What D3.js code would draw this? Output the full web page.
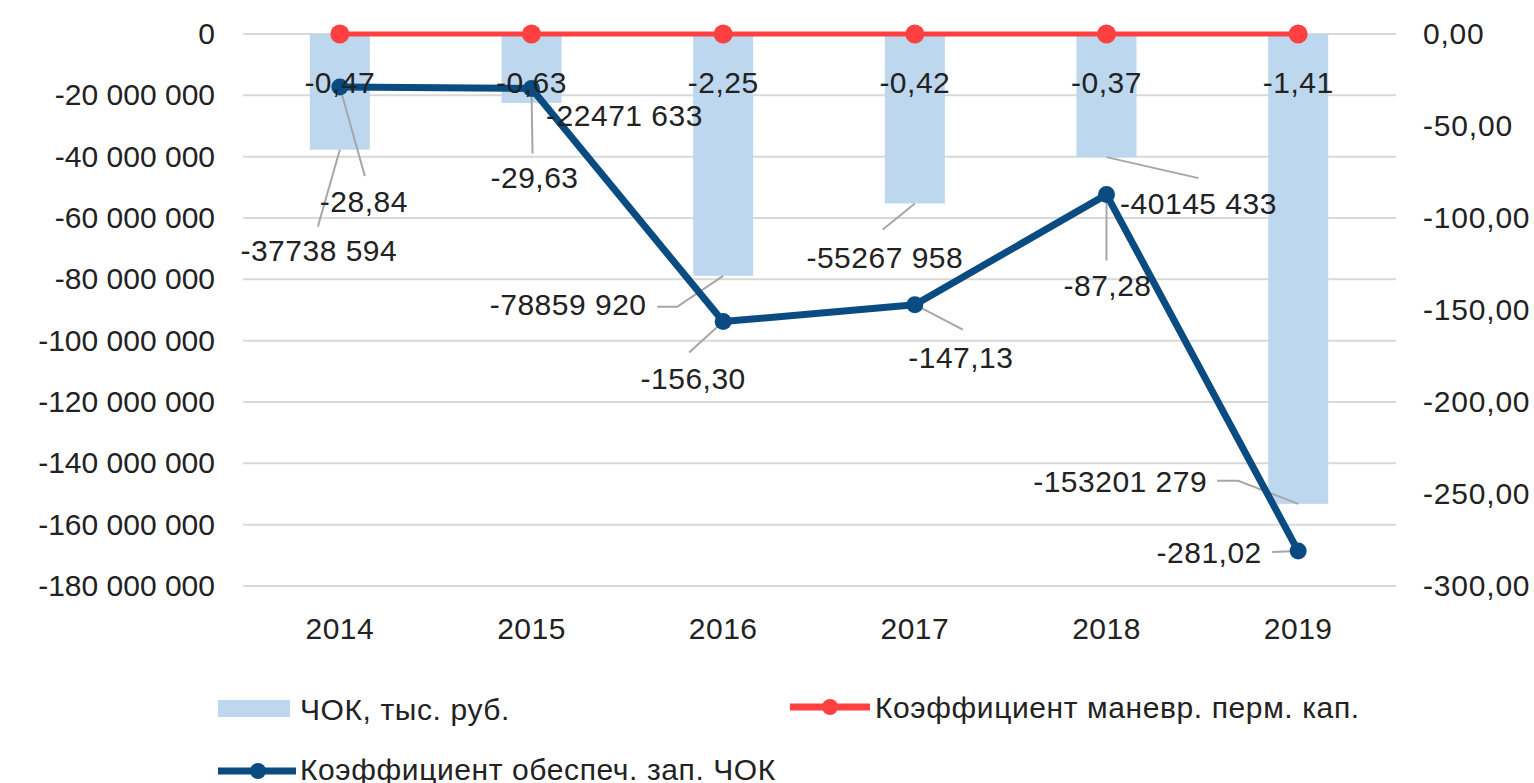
<!DOCTYPE html>
<html>
<head>
<meta charset="utf-8">
<script src="https://cdn.jsdelivr.net/npm/d3@7"></script>
<style>
  body { margin: 0; background: #fff; }
  text { font-family: "Liberation Sans", Arial, sans-serif; fill: #222; }
</style>
</head>
<body>
<div id="chart"></div>
<script>
// data
var years = ["2014", "2015", "2016", "2017", "2018", "2019"];
var chok = [-37738594, -22471633, -78859920, -55267958, -40145433, -153201279];
var kManevr = [-0.47, -0.63, -2.25, -0.42, -0.37, -1.41];
var kObesp = [-28.84, -29.63, -156.30, -147.13, -87.28, -281.02];
var leftTicks = [0, -20e6, -40e6, -60e6, -80e6, -100e6, -120e6, -140e6, -160e6, -180e6];
var rightTicks = [0, -50, -100, -150, -200, -250, -300];
var seriesNames = ["ЧОК, тыс. руб.", "Коэффициент маневр. перм. кап.", "Коэффициент обеспеч. зап. ЧОК"];

// label placement (offsets from the mark, px): label dx/dy and leader points
var barLabelPos = [
  {dx: -21, dy: 101, lead: [[-22, 77]]},
  {dx: 93, dy: 13, lead: []},
  {dx: -155, dy: 29, lead: [[-46, 31], [-66, 31]]},
  {dx: -30, dy: 54, lead: [[-32, 26]]},
  {dx: 92, dy: 46, lead: [[92, 21]]},
  {dx: -178, dy: -22, lead: [[-60, -23], [-81, -23]]}
];
var lineLabelPos = [
  {dx: 24, dy: 114, lead: [[25, 89]]},
  {dx: 3, dy: 89, lead: [[1, 65]]},
  {dx: -30, dy: 57, lead: [[-34, 31]]},
  {dx: 46, dy: 53, lead: [[48, 25]]},
  {dx: 1, dy: 91, lead: [[0, 66]]},
  {dx: -89, dy: 1, lead: [[-26, 1]]}
];

var W = 1534, H = 783;
var plotL = 243, plotR = 1396, plotT = 34, plotB = 586;
var colBar = "#bdd7ee", colRed = "#ff4040", colBlue = "#0a4c82", colGrid = "#d9d9d9", colLead = "#a6a6a6";

var loc = d3.formatLocale({decimal: ",", thousands: " ", grouping: [3], currency: ["", ""], minus: "-"});
var fmtLeft = loc.format(",");
var fmtRight = loc.format(",.2f");
var fmt2 = loc.format(".2f");
function fmtBar(v) {
  var s = Math.abs(Math.round(v)).toString();
  return (v < 0 ? "-" : "") + s.slice(0, -3) + " " + s.slice(-3);
}

var svg = d3.select("#chart").append("svg")
  .attr("width", W).attr("height", H)
  .attr("viewBox", `0 0 ${W} ${H}`);

var x = d3.scaleBand().domain(years).range([244, 1394]);
var yL = d3.scaleLinear().domain([-180e6, 0]).range([plotB, plotT]);
var yR = d3.scaleLinear().domain([-300, 0]).range([plotB, plotT]);
var cx = function(d) { return x(d) + x.bandwidth() / 2; };
var barW = 60;

// gridlines
svg.append("g").selectAll("line").data(leftTicks).enter().append("line")
  .attr("x1", plotL).attr("x2", plotR)
  .attr("y1", function(d) { return yL(d); }).attr("y2", function(d) { return yL(d); })
  .attr("stroke", colGrid).attr("stroke-width", 2);

// axes
var gL = svg.append("g").attr("transform", "translate(" + plotL + ",0)")
  .call(d3.axisLeft(yL).tickValues(leftTicks).tickSize(0).tickPadding(28).tickFormat(fmtLeft));
var gR = svg.append("g").attr("transform", "translate(" + plotR + ",0)")
  .call(d3.axisRight(yR).tickValues(rightTicks).tickSize(0).tickPadding(27).tickFormat(fmtRight));
var gX = svg.append("g").attr("transform", "translate(0," + plotB + ")")
  .call(d3.axisBottom(x).tickSize(0).tickPadding(32));
[gL, gR, gX].forEach(function(g) {
  g.select(".domain").remove();
  g.selectAll("text").attr("font-size", 30).attr("fill", "#222")
    .style("font-family", "'Liberation Sans', Arial, sans-serif");
});
gR.selectAll("text").attr("letter-spacing", 0.8);
gX.selectAll("text").attr("letter-spacing", 0.5);

// bars
svg.append("g").selectAll("rect").data(years).enter().append("rect")
  .attr("x", function(d) { return cx(d) - barW / 2; })
  .attr("y", yL(0))
  .attr("width", barW)
  .attr("height", function(d, i) { return yL(chok[i]) - yL(0); })
  .attr("fill", colBar);

// leader lines
function leaders(g, ax, ay, pos) {
  var pts = [[ax, ay]].concat(pos.lead.map(function(p) { return [ax + p[0], ay + p[1]]; }));
  if (pts.length > 1) {
    g.append("path").attr("d", d3.line()(pts))
      .attr("fill", "none").attr("stroke", colLead).attr("stroke-width", 2);
  }
}
var gLead = svg.append("g");
years.forEach(function(d, i) {
  leaders(gLead, cx(d), yL(chok[i]), barLabelPos[i]);
  leaders(gLead, cx(d), yR(kObesp[i]), lineLabelPos[i]);
});

// red line (primary axis)
var lineRed = d3.line().x(function(d) { return cx(d); }).y(function(d, i) { return yL(kManevr[i]); });
svg.append("path").datum(years).attr("d", lineRed)
  .attr("fill", "none").attr("stroke", colRed).attr("stroke-width", 5);
svg.append("g").selectAll("circle").data(years).enter().append("circle")
  .attr("cx", cx).attr("cy", function(d, i) { return yL(kManevr[i]); })
  .attr("r", 9.5).attr("fill", colRed);

// blue line (secondary axis)
var lineBlue = d3.line().x(function(d) { return cx(d); }).y(function(d, i) { return yR(kObesp[i]); });
svg.append("path").datum(years).attr("d", lineBlue)
  .attr("fill", "none").attr("stroke", colBlue).attr("stroke-width", 7).attr("stroke-linejoin", "round");
svg.append("g").selectAll("circle").data(years).enter().append("circle")
  .attr("cx", cx).attr("cy", function(d, i) { return yR(kObesp[i]); })
  .attr("r", 8.5).attr("fill", colBlue);

// data labels
var gLab = svg.append("g").attr("font-size", 30).attr("letter-spacing", 0.5).attr("text-anchor", "middle");
years.forEach(function(d, i) {
  gLab.append("text").attr("x", cx(d)).attr("y", yL(kManevr[i]) + 48).attr("dy", "0.35em")
    .text(fmt2(kManevr[i]));
  gLab.append("text").attr("x", cx(d) + barLabelPos[i].dx).attr("y", yL(chok[i]) + barLabelPos[i].dy)
    .attr("dy", "0.35em").text(fmtBar(chok[i]));
  gLab.append("text").attr("x", cx(d) + lineLabelPos[i].dx).attr("y", yR(kObesp[i]) + lineLabelPos[i].dy)
    .attr("dy", "0.35em").text(fmt2(kObesp[i]));
});

// legend
var lg = svg.append("g").attr("font-size", 30).attr("letter-spacing", 0.6);
lg.append("rect").attr("x", 218).attr("y", 700).attr("width", 72).attr("height", 17).attr("fill", colBar);
lg.append("text").attr("x", 300).attr("y", 709).attr("dy", "0.35em").text(seriesNames[0]);

lg.append("line").attr("x1", 790).attr("x2", 870).attr("y1", 707).attr("y2", 707)
  .attr("stroke", colRed).attr("stroke-width", 7);
lg.append("circle").attr("cx", 830).attr("cy", 707).attr("r", 8).attr("fill", colRed);
lg.append("text").attr("x", 875).attr("y", 707).attr("dy", "0.35em").text(seriesNames[1]);

lg.append("line").attr("x1", 218).attr("x2", 296).attr("y1", 771).attr("y2", 771)
  .attr("stroke", colBlue).attr("stroke-width", 7);
lg.append("circle").attr("cx", 258).attr("cy", 771).attr("r", 8).attr("fill", colBlue);
lg.append("text").attr("x", 300).attr("y", 769).attr("dy", "0.35em").text(seriesNames[2]);
</script>
</body>
</html>
